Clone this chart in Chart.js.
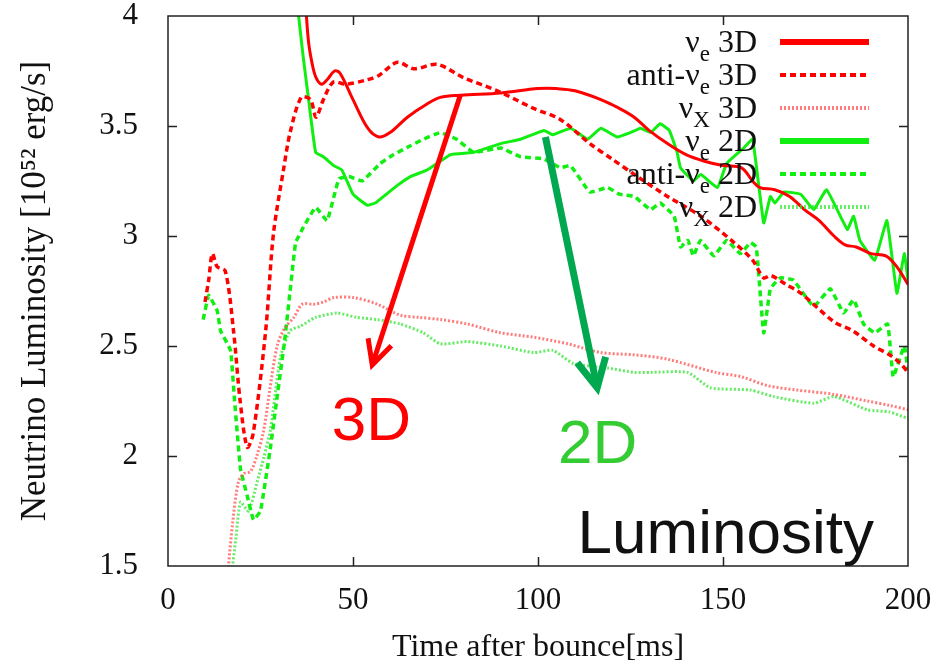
<!DOCTYPE html>
<html>
<head>
<meta charset="utf-8">
<script src="https://cdn.jsdelivr.net/npm/chart.js@4.4.1/dist/chart.umd.min.js"></script>
<style>
  html, body { margin: 0; padding: 0; background: #fff; }
  canvas { display: block; }
</style>
</head>
<body>
<canvas id="chart" width="938" height="666"></canvas>
<script>
// time after bounce [ms] and luminosity [1e52 erg/s]
const ve3dT = [37.2, 38, 39, 40, 41.5, 43, 45, 46.5, 50, 54, 57, 60, 64.7, 70, 73.6, 79, 90, 100, 105, 110, 117, 122, 126, 130, 135, 140, 145, 150, 155, 158, 160, 164, 168, 172, 176, 180, 183, 186, 190, 194, 197, 200];
const ve3dL = [4.05, 3.88, 3.78, 3.72, 3.69, 3.71, 3.75, 3.74, 3.62, 3.49, 3.45, 3.47, 3.54, 3.6, 3.63, 3.64, 3.65, 3.67, 3.67, 3.66, 3.62, 3.58, 3.54, 3.48, 3.42, 3.37, 3.34, 3.32, 3.31, 3.25, 3.22, 3.21, 3.18, 3.12, 3.07, 3.0, 2.96, 2.95, 2.92, 2.91, 2.86, 2.78];

const ave3dT = [10, 11, 12, 13.3, 15.5, 17.7, 19.5, 21.4, 23, 26.4, 28.5, 31.3, 33, 36, 38.5, 40, 42, 44.7, 48, 53.8, 57, 62, 66.4, 72.8, 79.8, 89, 98.8, 106, 114, 120, 126, 135, 144, 153, 158, 161, 163, 167, 171, 180, 185, 190.7, 195, 198, 200];
const ave3dL = [2.70, 2.80, 2.92, 2.86, 2.84, 2.57, 2.25, 2.04, 2.10, 2.57, 3.01, 3.31, 3.47, 3.63, 3.62, 3.54, 3.62, 3.70, 3.69, 3.71, 3.73, 3.79, 3.76, 3.78, 3.72, 3.66, 3.58, 3.53, 3.42, 3.35, 3.28, 3.18, 3.09, 2.97, 2.89, 2.81, 2.82, 2.78, 2.74, 2.61, 2.57, 2.50, 2.46, 2.42, 2.38];

const vx3dT = [16.0, 17.5, 19, 20.5, 22.3, 24, 25.9, 27.5, 29.5, 31.5, 34, 36.3, 39.5, 42, 44.8, 50.2, 56.6, 62.8, 68, 73.7, 80.9, 89.9, 98.8, 108, 117, 126, 135, 148, 155, 162, 170, 180, 189, 195, 200];
const vx3dL = [1.44, 1.70, 1.88, 1.92, 1.93, 2.00, 2.12, 2.30, 2.50, 2.58, 2.63, 2.69, 2.69, 2.70, 2.72, 2.72, 2.69, 2.64, 2.63, 2.62, 2.60, 2.56, 2.54, 2.51, 2.47, 2.46, 2.44, 2.38, 2.36, 2.32, 2.30, 2.28, 2.25, 2.23, 2.21];

const ve2dT = [34.8, 35.3, 36.5, 38, 39.9, 42, 44.8, 47, 50, 53.8, 56, 59, 62, 65.5, 70, 76.4, 82.6, 89.9, 95.3, 101.6, 104, 108.8, 113.4, 117, 121.4, 125, 127.7, 130.4, 133, 135.5, 137.6, 138.5, 142, 144, 148.5, 151, 155.6, 158, 161, 162.8, 164, 166.5, 171, 174.5, 178, 183.6, 185.3, 187, 191, 194.3, 197, 199, 200];
const ve2dL = [4.10, 4.00, 3.82, 3.62, 3.38, 3.36, 3.32, 3.30, 3.19, 3.14, 3.15, 3.19, 3.23, 3.27, 3.30, 3.37, 3.38, 3.42, 3.44, 3.48, 3.46, 3.49, 3.44, 3.49, 3.45, 3.47, 3.49, 3.47, 3.51, 3.48, 3.38, 3.31, 3.25, 3.28, 3.22, 3.33, 3.40, 3.44, 3.06, 3.18, 3.15, 3.20, 3.19, 3.12, 3.21, 3.03, 3.09, 2.98, 2.89, 3.07, 2.74, 2.92, 2.80];

const ave2dT = [9.5, 11, 13.3, 14.2, 16.9, 18, 19.6, 21.4, 23.1, 25, 27.7, 29.5, 31.5, 33, 34.5, 36.6, 39.9, 43, 46.2, 49, 52.5, 57.4, 61, 65.5, 69, 73.6, 78, 82.6, 89.9, 95.3, 101.6, 106, 108.8, 114, 118.8, 122, 126, 130.4, 133, 136.8, 138.5, 140.5, 142, 143.9, 147.5, 151, 154.7, 157.4, 159, 161, 162.8, 165.5, 169, 174.5, 179, 182.6, 185.3, 188, 191, 194.5, 196, 199, 200];
const ave2dL = [2.62, 2.73, 2.66, 2.57, 2.48, 2.25, 1.94, 1.82, 1.71, 1.75, 2.04, 2.27, 2.52, 2.75, 2.97, 3.04, 3.13, 3.07, 3.26, 3.27, 3.25, 3.33, 3.37, 3.41, 3.44, 3.47, 3.44, 3.38, 3.40, 3.36, 3.35, 3.31, 3.32, 3.20, 3.22, 3.19, 3.18, 3.12, 3.15, 3.09, 2.95, 2.98, 2.91, 2.98, 2.91, 2.98, 2.92, 2.97, 2.95, 2.56, 2.76, 2.81, 2.80, 2.68, 2.76, 2.65, 2.71, 2.60, 2.56, 2.60, 2.36, 2.50, 2.39];

const vx2dT = [17, 18.3, 19.6, 21.8, 24.2, 26, 27.7, 30.4, 33, 35.8, 39.9, 45.7, 51, 56.6, 62.8, 69, 73.6, 80.9, 89.9, 98.8, 104, 109.6, 118.8, 126, 130.4, 140.4, 146.6, 157.4, 163.7, 174.5, 180, 189, 195, 200];
const vx2dL = [1.44, 1.62, 1.79, 1.75, 1.89, 2.00, 2.12, 2.45, 2.57, 2.59, 2.63, 2.65, 2.63, 2.62, 2.60, 2.56, 2.51, 2.52, 2.50, 2.47, 2.48, 2.42, 2.40, 2.38, 2.38, 2.38, 2.31, 2.30, 2.27, 2.24, 2.27, 2.21, 2.20, 2.17];

const xTicks = [0, 50, 100, 150, 200];
const yTicks = [1.5, 2, 2.5, 3, 3.5, 4];

const RED = "#ff0000";
const GREEN = "#11ee11";
const SERIF = "'Liberation Serif', 'Times New Roman', serif";
const SANS = "'Liberation Sans', Arial, sans-serif";

const pts = (t, l) => t.map((v, i) => ({ x: v, y: l[i] }));

const series = [
	{ label: "νe 3D", pre: "ν", sub: "e", suf: " 3D", t: ve3dT, l: ve3dL, color: RED, width: 3, dash: [], tension: 0.35, keyWidth: 6 },
	{ label: "anti-νe 3D", pre: "anti-ν", sub: "e", suf: " 3D", t: ave3dT, l: ave3dL, color: RED, width: 3.5, dash: [6, 4], tension: 0.3, keyWidth: 4 },
	{ label: "νX 3D", pre: "ν", sub: "X", suf: " 3D", t: vx3dT, l: vx3dL, color: "rgba(255,80,80,0.75)", width: 3, dash: [2, 2], tension: 0.3, keyWidth: 4 },
	{ label: "νe 2D", pre: "ν", sub: "e", suf: " 2D", t: ve2dT, l: ve2dL, color: GREEN, width: 3, dash: [], tension: 0.1, keyWidth: 6 },
	{ label: "anti-νe 2D", pre: "anti-ν", sub: "e", suf: " 2D", t: ave2dT, l: ave2dL, color: GREEN, width: 3.5, dash: [6, 4], tension: 0.1, keyWidth: 4 },
	{ label: "νX 2D", pre: "ν", sub: "X", suf: " 2D", t: vx2dT, l: vx2dL, color: "rgba(50,230,50,0.75)", width: 3, dash: [2, 2], tension: 0.2, keyWidth: 4 },
];

// arrows and labels in data units
const arrows = [
	{ from: [79.0, 3.64], to: [55.2, 2.414], color: RED, width: 5, head: 27 },
	{ from: [102.0, 3.45], to: [116.0, 2.31], color: "#00a84f", width: 7, head: 32 },
];
const notes = [
	{ text: "3D", at: [55.0, 2.073], color: RED, size: 62, align: "center" },
	{ text: "2D", at: [116.1, 1.968], color: "#33cc33", size: 62, align: "center" },
	{ text: "Luminosity", at: [110.7, 1.559], color: "#111", size: 62, align: "left" },
];

const frame = {
	id: "frame",
	afterDatasetsDraw(chart) {
		const { ctx, chartArea: a, scales: { x, y } } = chart;
		ctx.save();
		ctx.strokeStyle = "#222";
		ctx.lineWidth = 1.5;
		ctx.strokeRect(a.left, a.top, a.right - a.left, a.bottom - a.top);
		ctx.beginPath();
		xTicks.slice(1, -1).forEach((v) => {
			const px = Math.round(x.getPixelForValue(v)) + 0.5;
			ctx.moveTo(px, a.bottom); ctx.lineTo(px, a.bottom - 9);
			ctx.moveTo(px, a.top); ctx.lineTo(px, a.top + 9);
		});
		yTicks.slice(1, -1).forEach((v) => {
			const py = Math.round(y.getPixelForValue(v)) + 0.5;
			ctx.moveTo(a.left, py); ctx.lineTo(a.left + 9, py);
			ctx.moveTo(a.right, py); ctx.lineTo(a.right - 9, py);
		});
		ctx.stroke();
		ctx.restore();
	},
};

const keyBox = {
	id: "keyBox",
	afterDraw(chart) {
		const { ctx } = chart;
		const textRight = 757, lineX0 = 780, lineX1 = 869, row0 = 42, rowStep = 33;
		ctx.save();
		series.forEach((s, i) => {
			const yMid = row0 + i * rowStep;
			const base = yMid + 10;
			ctx.font = `32px ${SERIF}`;
			const wPre = ctx.measureText(s.pre).width;
			const wSuf = ctx.measureText(s.suf).width;
			ctx.font = `23px ${SERIF}`;
			const wSub = ctx.measureText(s.sub).width;
			let cx = textRight - wPre - wSub - wSuf;
			ctx.fillStyle = "#111";
			ctx.textAlign = "left";
			ctx.textBaseline = "alphabetic";
			ctx.font = `32px ${SERIF}`;
			ctx.fillText(s.pre, cx, base);
			cx += wPre;
			ctx.font = `23px ${SERIF}`;
			ctx.fillText(s.sub, cx, base + 9);
			cx += wSub;
			ctx.font = `32px ${SERIF}`;
			ctx.fillText(s.suf, cx, base);

			ctx.strokeStyle = s.color;
			ctx.lineWidth = s.keyWidth;
			ctx.setLineDash(s.dash);
			ctx.beginPath();
			ctx.moveTo(lineX0, yMid);
			ctx.lineTo(lineX1, yMid);
			ctx.stroke();
			ctx.setLineDash([]);
		});
		ctx.restore();
	},
};

const overlay = {
	id: "overlay",
	afterDraw(chart) {
		const { ctx, scales: { x, y } } = chart;
		ctx.save();
		arrows.forEach((a) => {
			const x0 = x.getPixelForValue(a.from[0]), y0 = y.getPixelForValue(a.from[1]);
			const x1 = x.getPixelForValue(a.to[0]), y1 = y.getPixelForValue(a.to[1]);
			const ang = Math.atan2(y0 - y1, x0 - x1);
			ctx.strokeStyle = a.color;
			ctx.lineWidth = a.width;
			ctx.lineCap = "butt";
			ctx.beginPath();
			ctx.moveTo(x0, y0);
			ctx.lineTo(x1, y1);
			ctx.stroke();
			ctx.lineJoin = "miter";
			ctx.beginPath();
			ctx.moveTo(x1 + a.head * Math.cos(ang + 0.47), y1 + a.head * Math.sin(ang + 0.47));
			ctx.lineTo(x1, y1);
			ctx.lineTo(x1 + a.head * Math.cos(ang - 0.47), y1 + a.head * Math.sin(ang - 0.47));
			ctx.stroke();
		});
		notes.forEach((n) => {
			ctx.font = `${n.size}px ${SANS}`;
			ctx.fillStyle = n.color;
			ctx.textAlign = n.align;
			ctx.textBaseline = "alphabetic";
			ctx.fillText(n.text, x.getPixelForValue(n.at[0]), y.getPixelForValue(n.at[1]));
		});
		ctx.restore();
	},
};

new Chart(document.getElementById("chart"), {
	type: "line",
	data: {
		datasets: series.map((s) => ({
			label: s.label,
			data: pts(s.t, s.l),
			borderColor: s.color,
			backgroundColor: s.color,
			borderWidth: s.width,
			borderDash: s.dash,
			tension: s.tension,
			pointRadius: 0,
			fill: false,
			clip: 0,
		})),
	},
	options: {
		responsive: false,
		animation: false,
		events: [],
		layout: { padding: { top: 16, right: 30, left: 0, bottom: 0 } },
		plugins: {
			legend: { display: false },
			tooltip: { enabled: false },
		},
		scales: {
			x: {
				type: "linear",
				min: 0,
				max: 200,
				afterFit: (scale) => {
					scale.height = 100;
					scale.paddingLeft = 0;
					scale.paddingRight = 0;
				},
				afterBuildTicks: (scale) => { scale.ticks = xTicks.map((v) => ({ value: v })); },
				grid: { display: false },
				border: { display: false },
				ticks: {
					padding: 8,
					maxRotation: 0,
					color: "#111",
					font: { family: SERIF, size: 31 },
					callback: (v) => String(v),
				},
				title: {
					display: true,
					text: "Time after bounce[ms]",
					color: "#111",
					font: { family: SERIF, size: 32, lineHeight: 1.0 },
					padding: { top: 0, bottom: 2 },
				},
			},
			y: {
				type: "linear",
				min: 1.5,
				max: 4,
				afterFit: (scale) => {
					scale.width = 168;
					scale.paddingTop = 0;
					scale.paddingBottom = 0;
				},
				afterBuildTicks: (scale) => { scale.ticks = yTicks.map((v) => ({ value: v })); },
				grid: { display: false },
				border: { display: false },
				ticks: {
					padding: 22,
					color: "#111",
					font: { family: SERIF, size: 31 },
					callback: (v) => String(v),
				},
				title: {
					display: true,
					text: "Neutrino Luminosity [10⁵² erg/s]",
					color: "#111",
					font: { family: SERIF, size: 35 },
					padding: { top: 15, bottom: 0 },
				},
			},
		},
	},
	plugins: [frame, keyBox, overlay],
});
</script>
</body>
</html>
